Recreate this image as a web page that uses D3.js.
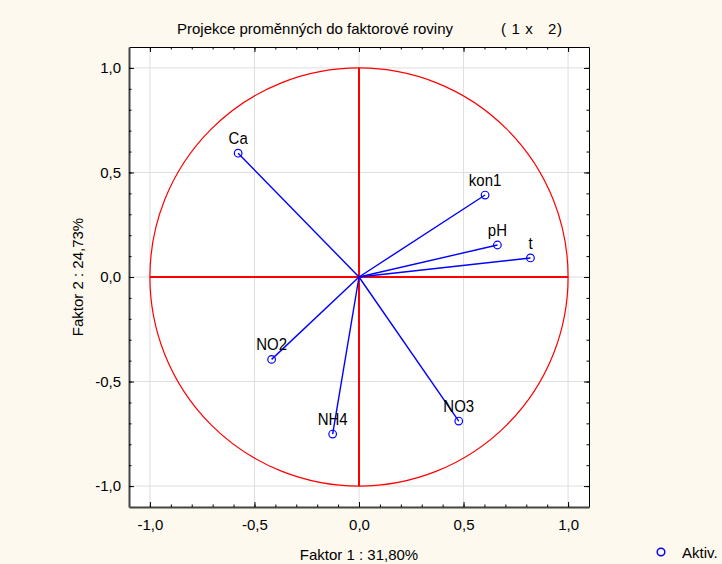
<!DOCTYPE html>
<html>
<head>
<meta charset="utf-8">
<script src="https://cdn.jsdelivr.net/npm/d3@7"></script>
<style>
  body { margin: 0; background: #fdf9ef; }
  svg { display: block; font-family: "Liberation Sans", Arial, sans-serif; }
</style>
</head>
<body>
<div id="chart"></div>
<script>
// variable loadings on factor 1 / factor 2
let names = ["Ca", "kon1", "pH", "t", "NO2", "NH4", "NO3"];
let f1 = [-0.578, 0.603, 0.662, 0.820, -0.418, -0.126, 0.477];
let f2 = [0.592, 0.392, 0.153, 0.091, -0.394, -0.751, -0.689];
let majorTicks = [-1.0, -0.5, 0.0, 0.5, 1.0];
let minorTicks = [-1.0, -0.9, -0.8, -0.7, -0.6, -0.5, -0.4, -0.3, -0.2, -0.1, 0.0,
                  0.1, 0.2, 0.3, 0.4, 0.5, 0.6, 0.7, 0.8, 0.9, 1.0];
let title = "Projekce proměnných do faktorové roviny";
let titleRight = "( 1 x   2)";
let xLabel = "Faktor 1 : 31,80%";
let yLabel = "Faktor 2 : 24,73%";
let legendLabel = "Aktiv.";

let data = names.map((n, i) => ({ name: n, x: f1[i], y: f2[i] }));

let W = 722, H = 564;
let margin = { top: 47, right: 133, bottom: 57, left: 129 };
let width = W - margin.left - margin.right;
let height = H - margin.top - margin.bottom;
let fmt = d => d.toFixed(1).replace(".", ",");

let svg = d3.select("#chart")
    .append("svg")
    .attr("width", W)
    .attr("height", H);

let g = svg.append("g")
    .attr("transform", "translate(" + margin.left + "," + margin.top + ")");

let x = d3.scaleLinear().domain([-1.1, 1.1]).range([0, width]);
let y = d3.scaleLinear().domain([-1.1, 1.1]).range([height, 0]);

g.append("rect")
    .attr("width", width)
    .attr("height", height)
    .attr("fill", "#ffffff");

// grid
g.selectAll(".gx").data(majorTicks).enter().append("line")
    .attr("x1", d => x(d)).attr("x2", d => x(d))
    .attr("y1", 0).attr("y2", height)
    .attr("stroke", "#dedede").attr("stroke-width", 1);
g.selectAll(".gy").data(majorTicks).enter().append("line")
    .attr("y1", d => y(d)).attr("y2", d => y(d))
    .attr("x1", 0).attr("x2", width)
    .attr("stroke", "#dedede").attr("stroke-width", 1);

// unit circle and red axes
g.append("circle")
    .attr("cx", x(0)).attr("cy", y(0))
    .attr("r", x(1) - x(0))
    .attr("fill", "none")
    .attr("stroke", "#ff0000")
    .attr("stroke-width", 1.2);
g.append("line")
    .attr("x1", x(-1)).attr("x2", x(1))
    .attr("y1", y(0)).attr("y2", y(0))
    .attr("stroke", "#ff0000").attr("stroke-width", 2);
g.append("line")
    .attr("x1", x(0)).attr("x2", x(0))
    .attr("y1", y(1)).attr("y2", y(-1))
    .attr("stroke", "#ff0000").attr("stroke-width", 2);

// vectors
g.selectAll(".vec").data(data).enter().append("line")
    .attr("x1", x(0)).attr("y1", y(0))
    .attr("x2", d => x(d.x)).attr("y2", d => y(d.y))
    .attr("stroke", "#0000ff")
    .attr("stroke-width", 1.4);
g.selectAll(".pt").data(data).enter().append("circle")
    .attr("cx", d => x(d.x)).attr("cy", d => y(d.y))
    .attr("r", 3.8)
    .attr("fill", "none")
    .attr("stroke", "#0000ff")
    .attr("stroke-width", 1.2);
g.selectAll(".lbl").data(data).enter().append("text")
    .attr("transform", d => "translate(" + x(d.x) + "," + (y(d.y) - 9) + ") scale(1,1.12)")
    .attr("text-anchor", "middle")
    .attr("font-size", "15px")
    .attr("fill", "#000")
    .text(d => d.name);

// axes: inward ticks on all four sides
function styleAxis(sel, color, w) {
    sel.select(".domain").attr("stroke", color).attr("stroke-width", w);
    sel.selectAll(".tick line").attr("stroke", "#000");
    sel.selectAll(".tick text").attr("font-size", "15px").attr("fill", "#000")
        .attr("font-family", "Liberation Sans, Arial, sans-serif");
}

let axTop = g.append("g")
    .call(d3.axisTop(x).tickValues(minorTicks).tickSize(-2.5).tickSizeOuter(0).tickFormat(""));
axTop.append("g").call(d3.axisTop(x).tickValues(majorTicks).tickSize(-5).tickSizeOuter(0).tickFormat(""))
    .select(".domain").remove();
styleAxis(axTop, "#000", 1);

let axRight = g.append("g")
    .attr("transform", "translate(" + width + ",0)")
    .call(d3.axisRight(y).tickValues(minorTicks).tickSize(-2.5).tickSizeOuter(0).tickFormat(""));
axRight.append("g").call(d3.axisRight(y).tickValues(majorTicks).tickSize(-5).tickSizeOuter(0).tickFormat(""))
    .select(".domain").remove();
styleAxis(axRight, "#000", 1);

let axBottom = g.append("g")
    .attr("transform", "translate(0," + height + ")")
    .call(d3.axisBottom(x).tickValues(minorTicks).tickSize(-2.5).tickSizeOuter(0).tickFormat(""));
let bMaj = axBottom.append("g").call(d3.axisBottom(x).tickValues(majorTicks).tickSize(-5).tickSizeOuter(0).tickPadding(12).tickFormat(fmt));
bMaj.select(".domain").remove();
styleAxis(axBottom, "#444", 2);
styleAxis(bMaj, "#444", 2);

let axLeft = g.append("g")
    .call(d3.axisLeft(y).tickValues(minorTicks).tickSize(-2.5).tickSizeOuter(0).tickFormat(""));
let lMaj = axLeft.append("g").call(d3.axisLeft(y).tickValues(majorTicks).tickSize(-5).tickSizeOuter(0).tickPadding(8).tickFormat(fmt));
lMaj.select(".domain").remove();
styleAxis(axLeft, "#444", 2);
styleAxis(lMaj, "#444", 2);

// titles
svg.append("text")
    .attr("x", 177).attr("y", 34)
    .attr("font-size", "15px")
    .text(title);
svg.append("text")
    .attr("x", 501).attr("y", 34)
    .attr("font-size", "15px")
    .attr("xml:space", "preserve")
    .attr("textLength", 61)
    .attr("lengthAdjust", "spacing")
    .style("white-space", "pre")
    .text(titleRight);
svg.append("text")
    .attr("x", margin.left + x(0)).attr("y", 560)
    .attr("text-anchor", "middle")
    .attr("font-size", "15px")
    .text(xLabel);
svg.append("text")
    .attr("transform", "translate(83," + (margin.top + y(0)) + ") rotate(-90)")
    .attr("text-anchor", "middle")
    .attr("font-size", "15px")
    .text(yLabel);

// legend
svg.append("circle")
    .attr("cx", 661).attr("cy", 552).attr("r", 3.8)
    .attr("fill", "none").attr("stroke", "#0000ff").attr("stroke-width", 1.5);
svg.append("text")
    .attr("x", 682).attr("y", 558)
    .attr("font-size", "15px")
    .text(legendLabel);
</script>
</body>
</html>
